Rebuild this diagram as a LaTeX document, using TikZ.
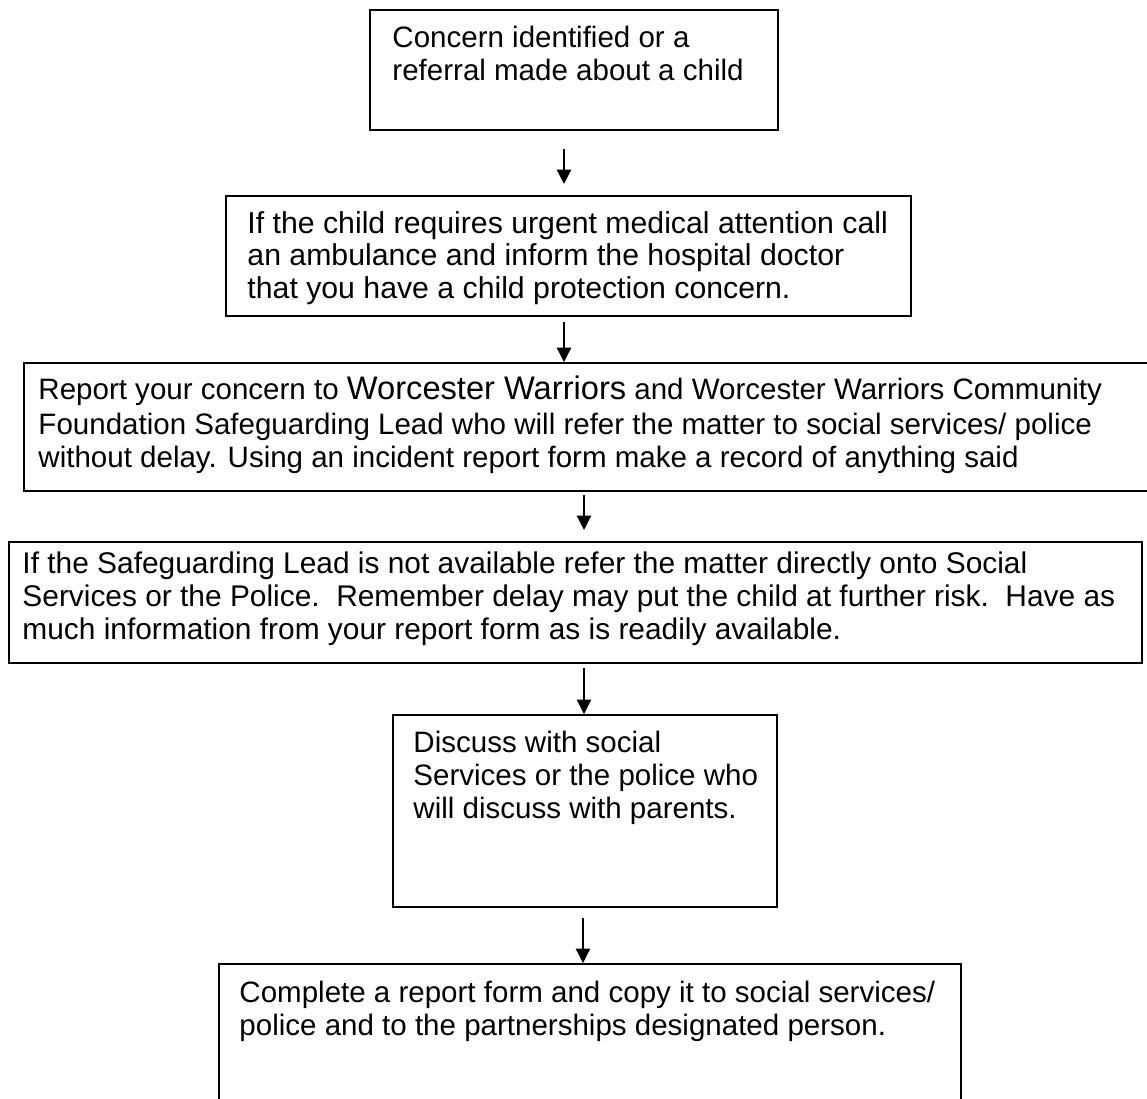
\documentclass[tikz,border=0pt]{standalone}
\usepackage{fontspec}
\setmainfont{Liberation Sans}
\usetikzlibrary{arrows.meta}
\newcommand{\wwbig}{\fontsize{13.6}{13.75}\selectfont}
\begin{document}
\begin{tikzpicture}[x=0.41667pt,y=-0.41667pt,
  box/.style={draw=black,line width=0.8pt,rectangle,inner sep=0pt,anchor=north west},
  txt/.style={anchor=base west,inner sep=0pt,align=left,font=\fontsize{12.3}{13.75}\selectfont},
  arr/.style={line width=0.55pt,-{Triangle[width=6pt,length=6pt]}}]
\useasboundingbox (0,0) rectangle (1147,1099);
\clip (0,0) rectangle (1147,1099);
% boxes
\node[box,minimum width=408*0.41667pt,minimum height=120*0.41667pt] (b1) at (369,9) {};
\node[box,minimum width=685*0.41667pt,minimum height=120*0.41667pt] (b2) at (225,195) {};
\node[box,minimum width=1147*0.41667pt,minimum height=128*0.41667pt] (b3) at (23,362) {};
\node[box,minimum width=1133*0.41667pt,minimum height=121*0.41667pt] (b4) at (8,541) {};
\node[box,minimum width=384*0.41667pt,minimum height=192*0.41667pt] (b5) at (392,714) {};
\node[box,minimum width=742*0.41667pt,minimum height=170*0.41667pt] (b6) at (218,963) {};
% texts (anchored at the baseline of their last line)
\node[txt] (t1) at (392,81) {Concern identified or a\\referral made about a child};
\node[txt,font=\fontsize{12.6}{13.75}\selectfont] (t2) at (247,299) {If the child requires urgent medical attention call\\an ambulance and inform the hospital doctor\\that you have a child protection concern.};
\node[txt] (t3) at (38,468) {Report your concern to {\wwbig Worcester Warriors} and Worcester Warriors Community\\[1pt]Foundation Safeguarding Lead who will refer the matter to social services/ police\\without delay. Using an incident report form make a record of anything said};
\node[txt,font=\fontsize{12.45}{13.75}\selectfont] (t4) at (22,639) {If the Safeguarding Lead is not available refer the matter directly onto Social\\Services or the Police.\ \ Remember delay may put the child at further risk.\ \ Have as\\much information from your report form as is readily available.};
\node[txt] (t5) at (413,818) {Discuss with social\\Services or the police who\\will discuss with parents.};
\node[txt] (t6) at (239,1035) {Complete a report form and copy it to social services/\\police and to the partnerships designated person.};
% arrow columns
\coordinate (ax1) at (564,0);
\coordinate (ax2) at (564,0);
\coordinate (ax3) at (584,0);
\coordinate (ax4) at (584,0);
\coordinate (ax5) at (583,0);
\draw[arr,shorten <=7.5pt,shorten >=4.6pt] (b1.south -| ax1) -- (b2.north -| ax1);
\draw[arr,shorten <=2.1pt] (b2.south -| ax2) -- (b3.north -| ax2);
\draw[arr,shorten <=1.25pt,shorten >=4.6pt] (b3.south -| ax3) -- (b4.north -| ax3);
\draw[arr,shorten <=1.7pt] (b4.south -| ax4) -- (b5.north -| ax4);
\draw[arr,shorten <=4.2pt] (b5.south -| ax5) -- (b6.north -| ax5);
\end{tikzpicture}
\end{document}
